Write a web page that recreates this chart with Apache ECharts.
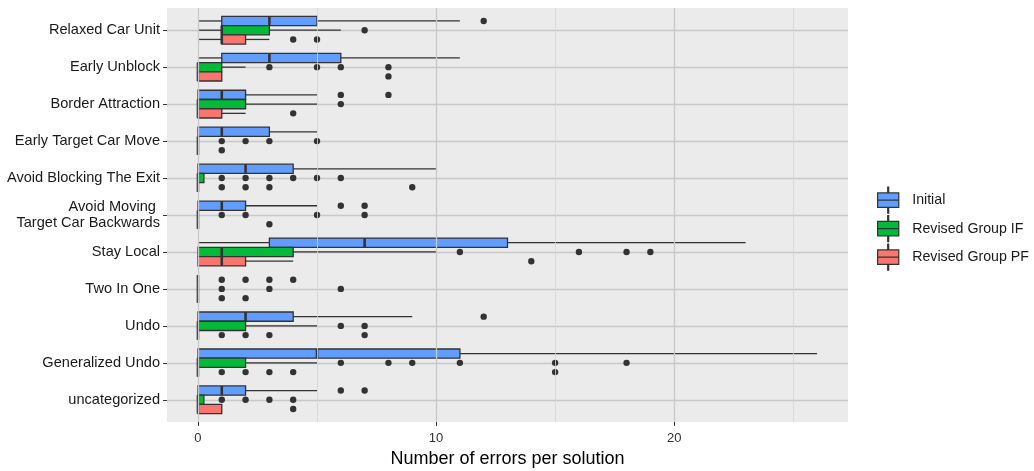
<!DOCTYPE html>
<html>
<head>
<meta charset="utf-8">
<script src="https://cdn.jsdelivr.net/npm/echarts@6/dist/echarts.min.js"></script>
<style>
  html, body { margin: 0; padding: 0; background: #ffffff; }
  #chart { width: 1034px; height: 471px; }
</style>
</head>
<body>
<div id="chart"></div>
<script>
// Error categories, listed top to bottom
const categories = [
  'Relaxed Car Unit',
  'Early Unblock',
  'Border Attraction',
  'Early Target Car Move',
  'Avoid Blocking The Exit',
  'Avoid Moving \nTarget Car Backwards',
  'Stay Local',
  'Two In One',
  'Undo',
  'Generalized Undo',
  'uncategorized'
];

const groups = ['Initial', 'Revised Group IF', 'Revised Group PF'];
const groupColors = ['#619CFF', '#00BA38', '#F8766D'];

// Box statistics per category: [lower whisker, Q1, median, Q3, upper whisker]
const initialStats = [
  [0, 1, 3, 5, 11],
  [0, 1, 3, 6, 11],
  [0, 0, 1, 2, 5],
  [0, 0, 1, 3, 5],
  [0, 0, 2, 4, 10],
  [0, 0, 1, 2, 5],
  [0, 3, 7, 13, 23],
  [0, 0, 0, 0, 0],
  [0, 0, 2, 4, 9],
  [0, 0, 5, 11, 26],
  [0, 0, 1, 2, 5]
];
const revisedIFStats = [
  [0, 1, 1, 3, 6],
  [0, 0, 0, 1, 2],
  [0, 0, 0, 2, 5],
  [0, 0, 0, 0, 0],
  [0, 0, 0, 0.25, 0.25],
  [0, 0, 0, 0, 0],
  [0, 0, 1, 4, 10],
  [0, 0, 0, 0, 0],
  [0, 0, 0, 2, 5],
  [0, 0, 0, 2, 5],
  [0, 0, 0, 0.25, 0.25]
];
const revisedPFStats = [
  [0, 1, 1, 2, 3],
  [0, 0, 0, 1, 1],
  [0, 0, 0, 1, 2],
  [0, 0, 0, 0, 0],
  [0, 0, 0, 0, 0],
  [0, 0, 0, 0, 0],
  [0, 0, 1, 2, 4],
  [0, 0, 0, 0, 0],
  [0, 0, 0, 0, 0],
  [0, 0, 0, 0, 0],
  [0, 0, 0, 1, 1]
];

// Outlying values per category
const initialOutliers = [
  [12], [], [6, 8], [], [], [6, 7], [], [1, 2, 3, 4], [12], [], [6, 7]
];
const revisedIFOutliers = [
  [7], [3, 5, 6, 8], [6], [1, 2, 3, 5], [1, 2, 3, 4, 5, 6], [1, 2, 5, 7],
  [11, 16, 18, 19], [1, 3, 6], [6, 7], [6, 8, 9, 11, 15, 18], [1, 2, 3, 4]
];
const revisedPFOutliers = [
  [4, 5], [8], [4], [1], [1, 2, 3, 9], [3], [14], [1, 2], [1, 2, 3, 7],
  [1, 2, 3, 4, 15], [4]
];

const xTicks = [0, 10, 20];
const xMinorTicks = [5, 15, 25];
const xRange = [-1.3, 27.3];

const FONT = "'Liberation Sans', Arial, Helvetica, sans-serif";
const INK = '#333333';
const GRID_MAJOR = '#C8C8C8';
const GRID_MINOR = '#D4D4D4';

const allStats = [initialStats, revisedIFStats, revisedPFStats];
const allOutliers = [initialOutliers, revisedIFOutliers, revisedPFOutliers];
// vertical slot of each group inside a category band (Initial on top)
const slots = [-1, 0, 1];
const SLOT = 0.25;

function boxRenderer(slot, color) {
  return function (params, api) {
    const ci = api.value(0);
    const band = api.size([0, 1])[1];
    const h = band * SLOT;
    const yc = api.coord([0, ci])[1] + slot * h;
    const px = v => api.coord([v, ci])[0];
    const lo = px(api.value(1)), q1 = px(api.value(2)), md = px(api.value(3));
    const q3 = px(api.value(4)), hi = px(api.value(5));
    const whisker = { stroke: INK, lineWidth: 1.3 };
    return {
      type: 'group',
      children: [
        { type: 'line', shape: { x1: lo, y1: yc, x2: q1, y2: yc }, style: whisker },
        { type: 'line', shape: { x1: q3, y1: yc, x2: hi, y2: yc }, style: whisker },
        { type: 'rect', shape: { x: q1, y: yc - h / 2, width: q3 - q1, height: h },
          style: { fill: color, stroke: INK, lineWidth: 1.3 } },
        { type: 'line', shape: { x1: md, y1: yc - h / 2, x2: md, y2: yc + h / 2 },
          style: { stroke: INK, lineWidth: 2.6 } }
      ]
    };
  };
}

function outlierRenderer(slot) {
  return function (params, api) {
    const ci = api.value(0);
    const band = api.size([0, 1])[1];
    const p = api.coord([api.value(1), ci]);
    return {
      type: 'circle',
      shape: { cx: p[0], cy: p[1] + slot * band * SLOT, r: 3.2 },
      style: { fill: INK }
    };
  };
}

const keyIcon = 'path://M12.5,0L13.5,0L13.5,6L12.5,6Z' +
  'M2,6L24,6L24,13.5L2,13.5Z' +
  'M2,13.5L24,13.5L24,21L2,21Z' +
  'M12.5,21L13.5,21L13.5,27L12.5,27Z';

const series = [];

// vertical grid lines across the full panel
series.push({
  type: 'line',
  name: 'grid',
  xAxisIndex: 0,
  yAxisIndex: 0,
  data: [],
  silent: true,
  z: 1,
  markLine: {
    silent: true,
    symbol: ['none', 'none'],
    label: { show: false },
    animation: false,
    data: [
      ...xMinorTicks.map(v => ({ xAxis: v, lineStyle: { color: GRID_MINOR, width: 0.8, type: 'solid' } })),
      ...xTicks.map(v => ({ xAxis: v, lineStyle: { color: GRID_MAJOR, width: 1.3, type: 'solid' } }))
    ]
  }
});

groups.forEach((g, gi) => {
  series.push({
    type: 'custom',
    name: g,
    xAxisIndex: 1,
    yAxisIndex: 1,
    z: 3,
    renderItem: boxRenderer(slots[gi], groupColors[gi]),
    itemStyle: { color: groupColors[gi] },
    encode: { x: [1, 2, 3, 4, 5], y: 0 },
    data: allStats[gi].map((s, ci) => [ci].concat(s))
  });
});

groups.forEach((g, gi) => {
  const pts = [];
  allOutliers[gi].forEach((vals, ci) => vals.forEach(v => pts.push([ci, v])));
  series.push({
    type: 'custom',
    name: g + ' outliers',
    xAxisIndex: 1,
    yAxisIndex: 1,
    z: 4,
    renderItem: outlierRenderer(slots[gi]),
    encode: { x: 1, y: 0 },
    data: pts
  });
});

const option = {
  animation: false,
  backgroundColor: '#ffffff',
  textStyle: { fontFamily: FONT },
  grid: [
    { left: 167, width: 681, top: 8, height: 414, show: true, backgroundColor: '#EBEBEB',
      borderWidth: 0, containLabel: false, outerBoundsMode: 'none' },
    { left: 167, width: 681, top: 30.2, height: 369.6, show: false,
      containLabel: false, outerBoundsMode: 'none' }
  ],
  xAxis: [
    {
      type: 'value', gridIndex: 0, min: xRange[0], max: xRange[1],
      name: 'Number of errors per solution',
      nameLocation: 'middle', nameGap: 27,
      nameTextStyle: { fontSize: 18, color: '#000000', fontFamily: FONT },
      axisLine: { show: false, onZero: false },
      axisTick: { show: true, customValues: xTicks, length: 4, lineStyle: { color: INK, width: 1 } },
      axisLabel: { customValues: xTicks, margin: 10, fontSize: 13, color: '#333333', fontFamily: FONT },
      splitLine: { show: false }
    },
    { type: 'value', gridIndex: 1, min: xRange[0], max: xRange[1], show: false }
  ],
  yAxis: [
    { type: 'value', gridIndex: 0, min: 0, max: 1, show: false },
    {
      type: 'category', gridIndex: 1, data: categories, inverse: true, boundaryGap: false,
      axisLine: { show: false, onZero: false },
      axisTick: { show: true, length: 4, lineStyle: { color: INK, width: 1 } },
      axisLabel: { margin: 7, fontSize: 14.6, color: '#1A1A1A', fontFamily: FONT, lineHeight: 16, align: 'right' },
      splitLine: { show: true, lineStyle: { color: GRID_MAJOR, width: 1.3 } }
    }
  ],
  legend: {
    orient: 'vertical',
    left: 877,
    top: 186.5,
    padding: 0,
    itemWidth: 26,
    itemHeight: 26,
    itemGap: 1.3,
    selectedMode: false,
    textStyle: { fontSize: 14.2, color: '#1A1A1A', fontFamily: FONT, padding: [0, 0, 0, 6] },
    data: groups.map((g, gi) => ({
      name: g,
      icon: keyIcon,
      itemStyle: { color: groupColors[gi], borderColor: INK, borderWidth: 1.2 }
    }))
  },
  series: series
};

const chart = echarts.init(document.getElementById('chart'), null, { renderer: 'canvas' });
chart.setOption(option);
</script>
</body>
</html>
